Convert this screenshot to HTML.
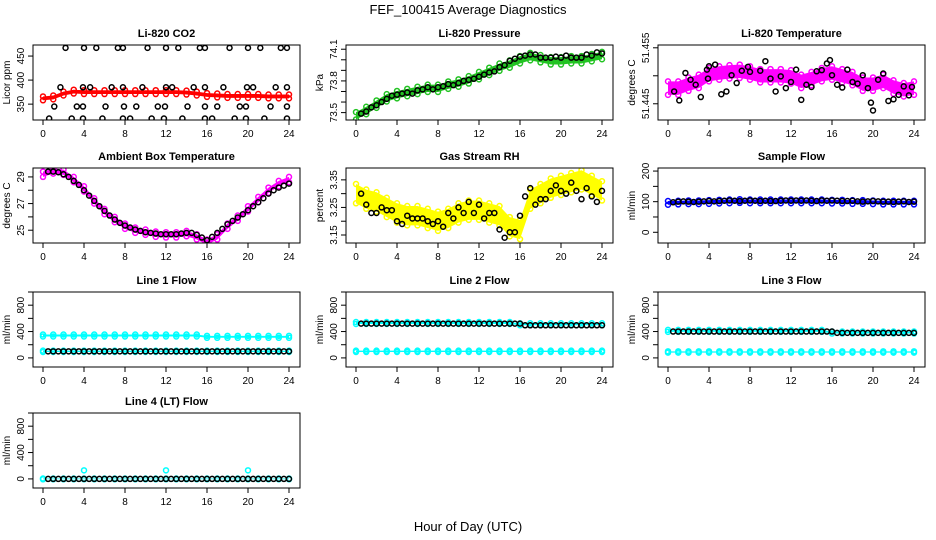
<!DOCTYPE html>
<html><head><meta charset="utf-8"><style>
body{margin:0;background:#fff;}
svg{display:block;font-family:"Liberation Sans",Arial,sans-serif;}
</style></head><body>
<svg id="c" width="936" height="540" viewBox="0 0 936 540">
<text x="468" y="14" text-anchor="middle" font-size="13">FEF_100415  Average Diagnostics</text>
<text x="468" y="531" text-anchor="middle" font-size="13">Hour of Day (UTC)</text>
</svg>
<script>
// ---- data ----
const xTicks = [0,4,8,12,16,20,24];
const co2Band = [362,364,372,376,375,375,375,375,375,375,375,375,375,375,374,372,369,368,367,367,367,367,366,366,366];
const co2PtsX = [2.2,4,5.2,7.3,7.8,10.2,12,13.2,15.3,15.8,18.2,20,21.2,23.2,23.8, 1.7,3.9,4.6,6.7,7.8,9.7,12,12.6,14.7,15.8,17.6,19.9,20.5,22.7,23.8, 1.1,3.3,3.9,6.1,7.9,9.1,11.2,11.9,14.1,15.8,17,19.2,19.8,22.2,23.8, 0.6,2.8,3.9,5.8,7.8,8.5,10.6,11.8,13.6,15.8,16.5,18.7,19.8,21.6,23.8];
const co2PtsY = [467,467,467,467,467,467,467,467,467,467,467,467,467,467,467, 385,385,385,385,385,385,385,385,385,385,385,385,385,385,385, 345,345,345,345,345,345,345,345,345,345,345,345,345,345,345, 320,320,320,320,320,320,320,320,320,320,320,320,320,320,320];
const presBand = [73.47,73.52,73.58,73.64,73.67,73.69,73.71,73.73,73.73,73.76,73.78,73.81,73.85,73.89,73.93,73.96,74.00,74.03,74.01,73.99,73.99,74.00,74.00,74.02,74.04];
const presBlack = [73.49,73.51,73.55,73.57,73.6,73.63,73.66,73.67,73.68,73.69,73.68,73.71,73.72,73.74,73.72,73.74,73.75,73.77,73.76,73.78,73.80,73.81,73.82,73.84,73.86,73.88,73.89,73.93,73.95,73.99,74.01,74.03,74.04,74.05,74.05,74.02,74.02,74.02,74.03,74.02,74.04,74.02,74.02,74.02,74.05,74.04,74.07,74.06];
const ltBand = [51.4478,51.4478,51.4485,51.4490,51.4502,51.4505,51.4507,51.4508,51.4505,51.4500,51.4500,51.4500,51.4498,51.4490,51.4495,51.4502,51.4505,51.4500,51.4495,51.4485,51.4485,51.4490,51.4480,51.4475,51.4478];
const ltX = [0.6,1.1,1.7,2.2,2.7,3.2,3.8,3.9,4,4.6,5.2,5.7,6.2,6.7,7.2,7.8,8,9,9.5,10,10.5,11,11.5,12,12.5,13,13.5,14,14.5,15,15.5,15.8,16,16.5,17,17.5,18,18.5,19,19.5,19.8,20,20.5,21,21.5,22,22.5,23,23.5,23.8];
const ltBlack = [51.4472,51.4456,51.4505,51.4493,51.4484,51.4462,51.4511,51.4495,51.4517,51.4520,51.4467,51.4472,51.4501,51.4487,51.4509,51.4516,51.4507,51.4509,51.4526,51.4495,51.4472,51.4499,51.4478,51.4489,51.4511,51.4457,51.4484,51.4480,51.4508,51.4510,51.4522,51.4528,51.4501,51.4484,51.4479,51.4511,51.4489,51.4486,51.4501,51.4478,51.4452,51.4438,51.4493,51.4504,51.4455,51.4458,51.4466,51.4481,51.4465,51.4480];
const ambBand = [29.2,29.45,29.35,28.8,28.1,27.2,26.4,25.8,25.3,25.0,24.85,24.7,24.65,24.65,24.75,24.5,24.1,24.5,25.3,25.9,26.6,27.3,28.0,28.5,28.8];
const ambBlack = [29.4,29.4,29.35,29.2,29.0,28.7,28.4,28.0,27.6,27.2,26.8,26.45,26.1,25.8,25.55,25.35,25.2,25.05,24.95,24.85,24.8,24.75,24.7,24.7,24.7,24.7,24.75,24.8,24.8,24.65,24.45,24.25,24.5,24.8,25.1,25.45,25.7,25.95,26.2,26.5,26.8,27.1,27.4,27.75,28.0,28.2,28.35,28.5];
const rhBand = [3.30,3.28,3.27,3.25,3.23,3.22,3.22,3.21,3.20,3.21,3.23,3.24,3.24,3.23,3.22,3.18,3.17,3.28,3.30,3.32,3.33,3.34,3.35,3.33,3.31];
const rhBlack = [3.30,3.26,3.23,3.23,3.25,3.24,3.24,3.20,3.19,3.22,3.21,3.21,3.21,3.20,3.19,3.20,3.18,3.23,3.21,3.25,3.23,3.27,3.23,3.26,3.21,3.23,3.23,3.17,3.14,3.16,3.16,3.22,3.29,3.32,3.26,3.28,3.28,3.31,3.33,3.31,3.30,3.34,3.31,3.28,3.32,3.29,3.27,3.31];
const sfBand = [96,97,98,98,99,100,101,102,101,101,101,101,101,101,101,101,100,100,99,99,98,97,97,97,97];
const sfBlack = [98,100,101,100,99,100,101,102,101,102,103,104,103,102,103,104,103,102,103,102,102,103,104,103,104,103,104,103,102,104,103,104,103,102,102,103,101,100,101,102,101,100,100,99,100,101,99,100];
const l1High = [340,340,340,340,340,340,340,340,340,340,340,340,340,340,340,340,320,320,320,320,320,320,320,320,320];
const l1Low = [100,100,100,100,100,100,100,100,100,100,100,100,100,100,100,100,100,100,100,100,100,100,100,100,100];
const l1Black = [100,100,100,100,100,100,100,100,100,100,100,100,100,100,100,100,100,100,100,100,100,100,100,100,100,100,100,100,100,100,100,100,100,100,100,100,100,100,100,100,100,100,100,100,100,100,100,100];
const l2High = [530,530,530,530,530,530,530,530,530,530,530,530,530,530,530,530,510,510,510,510,510,510,510,510,510];
const l2Low = [100,100,100,100,100,100,100,100,100,100,100,100,100,100,100,100,100,100,100,100,100,100,100,100,100];
const l2Black = [520,520,520,520,520,520,520,520,520,520,520,520,520,520,520,520,520,520,520,520,520,520,520,520,520,520,520,520,520,520,520,520,495,495,495,495,495,495,495,495,495,495,495,495,495,495,495,495];
const l3High = [410,410,410,410,410,410,410,410,410,410,410,410,410,410,410,410,385,385,385,385,385,385,385,385,385];
const l3Low = [90,90,90,90,90,90,90,90,90,90,90,90,90,90,90,90,90,90,90,90,90,90,90,90,90];
const l3Black = [400,400,400,400,400,400,400,400,400,400,400,400,400,400,400,400,400,400,400,400,400,400,400,400,400,400,400,400,400,400,400,400,380,380,380,380,380,380,380,380,380,380,380,380,380,380,380,380];
const l4Low = [0,0,0,0,0,0,0,0,0,0,0,0,0,0,0,0,0,0,0,0,0,0,0,0,0];
const l4SpikeX = [4,12,20];
const l4SpikeY = [130,130,130];
const l4Black = [0,0,0,0,0,0,0,0,0,0,0,0,0,0,0,0,0,0,0,0,0,0,0,0,0,0,0,0,0,0,0,0,0,0,0,0,0,0,0,0,0,0,0,0,0,0,0,0];

// ---- layout ----
const NS='http://www.w3.org/2000/svg';
const svg=document.getElementById('c');
const COLS=[33,346,658], ROWS=[45,168,292,413], W=267, H=75;
const hours=[]; for(let h=0;h<=24;h++) hours.push(h);
const halfHours=[]; for(let i=1;i<=48;i++) halfHours.push(i*0.5);
function el(tag,attrs,parent){const e=document.createElementNS(NS,tag);for(const k in attrs)e.setAttribute(k,attrs[k]);(parent||svg).appendChild(e);return e;}

function panel(cfg){
  const L=COLS[cfg.col], T=ROWS[cfg.row];
  const g=el('g',{});
  
  
  const xs=v=>L+10+v/24*246;
  const ys=v=>T+H-(v-cfg.ymin)/(cfg.ymax-cfg.ymin)*H;
  const clip='clip'+cfg.name;
  const cp=el('clipPath',{id:clip},g); el('rect',{x:L,y:T,width:W,height:H},cp);
  const data=el('g',{'clip-path':'url(#'+clip+')'},g);
  (cfg.bands||[]).forEach(b=>{
    const up=hours.map((h,i)=>xs(h)+','+ys(b.v[i]+b.s)).join(' ');
    const dn=hours.slice().reverse().map((h,j)=>{const i=24-j;return xs(h)+','+ys(b.v[i]-b.s);}).join(' ');
    const p=el('polygon',{points:up+' '+dn,fill:b.c},data);
    
    
    hours.forEach((h,i)=>{[b.s,-b.s].forEach(o=>{
      const c=el('circle',{cx:xs(h),cy:ys(b.v[i]+o),r:2.5,fill:'none',stroke:b.c,'stroke-width':1.5},data);
      
      
    });});
  });
  (cfg.pts||[]).forEach(p=>{
    p.x.forEach((xv,i)=>{
      const c=el('circle',{cx:xs(xv),cy:ys(p.y[i]),r:2.5,fill:'none',stroke:p.c,'stroke-width':1.5},data);
      
      
    });
  });
  const bx=el('rect',{x:L,y:T,width:W,height:H,fill:'none',stroke:'#000','stroke-width':1},g);
  
  
  const t=el('text',{x:L+W/2,y:T-8,'text-anchor':'middle','font-size':11,'font-weight':'bold'},g);
  t.textContent=cfg.title;
  
  
  xTicks.forEach(v=>{
    el('line',{x1:xs(v),x2:xs(v),y1:T+H,y2:T+H+5,stroke:'#000'},g);
    const tx=el('text',{x:xs(v),y:T+H+17,'text-anchor':'middle','font-size':10},g);
    tx.textContent=v;
    
    
  });
  cfg.yt.forEach(v=>{
    el('line',{x1:L-5,x2:L,y1:ys(v),y2:ys(v),stroke:'#000'},g);
  });
  cfg.yl.forEach((v,i)=>{
    const lab=cfg.ylabT?cfg.ylabT[i]:String(v);
    const ty=el('text',{x:0,y:0,'text-anchor':'middle','font-size':10,transform:'translate('+(L-9)+','+ys(v)+') rotate(-90)'},g);
    ty.textContent=lab;
    
    
  });
  const yt=el('text',{x:0,y:0,'text-anchor':'middle','font-size':10,transform:'translate('+(L-23)+','+(T+H/2)+') rotate(-90)'},g);
  yt.textContent=cfg.ylab;
  
  
}

const flowT=[0,200,400,600,800,1000], flowL=[0,400,800];
panel({name:'co2',col:0,row:0,title:'Li-820 CO2',ylab:'Licor ppm',ymin:317,ymax:473,yt:[350,400,450],yl:[350,400,450],
  bands:[{v:co2Band,s:4,c:'#ff0000'}],pts:[{x:co2PtsX,y:co2PtsY,c:'#000'}]});
panel({name:'pressure',col:1,row:0,title:'Li-820 Pressure',ylab:'kPa',ymin:73.43,ymax:74.14,yt:[73.5,73.6,73.7,73.8,73.9,74.0,74.1],yl:[73.5,73.8,74.1],
  bands:[{v:presBand,s:0.035,c:'#22c322'}],pts:[{x:halfHours,y:presBlack,c:'#000'}]});
panel({name:'li-temp',col:2,row:0,title:'Li-820 Temperature',ylab:'degrees C',ymin:51.4421,ymax:51.4555,yt:[51.445,51.450,51.455],yl:[51.445,51.455],ylabT:['51.445','51.455'],
  bands:[{v:ltBand,s:0.0012,c:'#ff00ff'}],pts:[{x:ltX,y:ltBlack,c:'#000'}]});
panel({name:'ambient',col:0,row:1,title:'Ambient Box Temperature',ylab:'degrees C',ymin:24.04,ymax:29.67,yt:[25,26,27,28,29],yl:[25,27,29],
  bands:[{v:ambBand,s:0.2,c:'#ff00ff'}],pts:[{x:halfHours,y:ambBlack,c:'#000'}]});
panel({name:'rh',col:1,row:1,title:'Gas Stream RH',ylab:'percent',ymin:3.121,ymax:3.393,yt:[3.15,3.20,3.25,3.30,3.35],yl:[3.15,3.25,3.35],ylabT:['3.15','3.25','3.35'],
  bands:[{v:rhBand,s:0.035,c:'#ffff00'}],pts:[{x:halfHours,y:rhBlack,c:'#000'}]});
panel({name:'sample-flow',col:2,row:1,title:'Sample Flow',ylab:'ml/min',ymin:-35,ymax:210,yt:[0,50,100,150,200],yl:[0,100,200],
  bands:[{v:sfBand,s:6,c:'#0000ff'}],pts:[{x:halfHours,y:sfBlack,c:'#000'}]});
panel({name:'line1',col:0,row:2,title:'Line 1 Flow',ylab:'ml/min',ymin:-138,ymax:1000,yt:flowT,yl:flowL,
  bands:[{v:l1High,s:15,c:'#00ffff'},{v:l1Low,s:10,c:'#00ffff'}],pts:[{x:halfHours,y:l1Black,c:'#000'}]});
panel({name:'line2',col:1,row:2,title:'Line 2 Flow',ylab:'ml/min',ymin:-138,ymax:1000,yt:flowT,yl:flowL,
  bands:[{v:l2High,s:15,c:'#00ffff'},{v:l2Low,s:10,c:'#00ffff'}],pts:[{x:halfHours,y:l2Black,c:'#000'}]});
panel({name:'line3',col:2,row:2,title:'Line 3 Flow',ylab:'ml/min',ymin:-138,ymax:1000,yt:flowT,yl:flowL,
  bands:[{v:l3High,s:15,c:'#00ffff'},{v:l3Low,s:10,c:'#00ffff'}],pts:[{x:halfHours,y:l3Black,c:'#000'}]});
panel({name:'line4',col:0,row:3,title:'Line 4 (LT) Flow',ylab:'ml/min',ymin:-138,ymax:1000,yt:flowT,yl:flowL,
  bands:[{v:l4Low,s:6,c:'#00ffff'}],pts:[{x:l4SpikeX,y:l4SpikeY,c:'#00ffff'},{x:halfHours,y:l4Black,c:'#000'}]});
</script>
</body></html>
